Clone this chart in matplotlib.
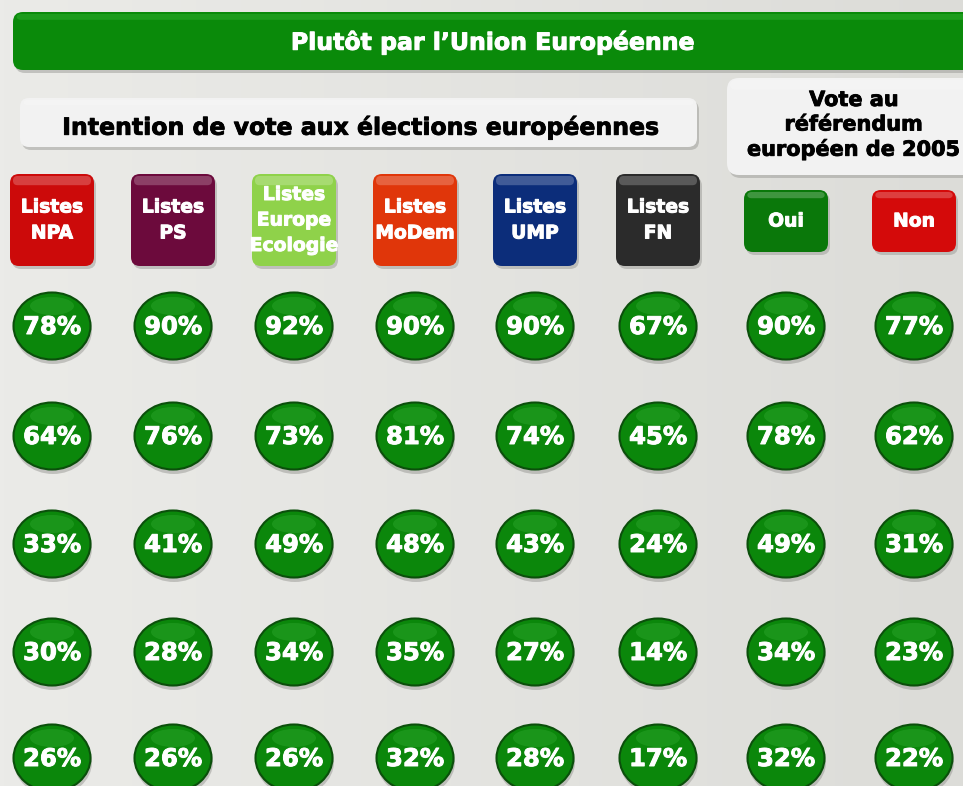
import matplotlib
matplotlib.use("Agg")
import matplotlib.pyplot as plt
import matplotlib.patheffects as pe
import numpy as np
from matplotlib.patches import FancyBboxPatch, Ellipse

# values, one list per row
row1 = [78, 90, 92, 90, 90, 67, 90, 77]
row2 = [64, 76, 73, 81, 74, 45, 78, 62]
row3 = [33, 41, 49, 48, 43, 24, 49, 31]
row4 = [30, 28, 34, 35, 27, 14, 34, 23]
row5 = [26, 26, 26, 32, 28, 17, 32, 22]
rows = [row1, row2, row3, row4, row5]

labels = ["Listes\nNPA", "Listes\nPS", "Listes\nEurope\nEcologie", "Listes\nMoDem",
          "Listes\nUMP", "Listes\nFN", "Oui", "Non"]
box_colors = ["#cc0a0a", "#6c0a3c", "#8fd24a", "#e0360a", "#0c2d7a", "#2b2b2b", "#0a780a", "#d40a0a"]
title = "Plutôt par l\u2019Union Européenne"
subtitle = "Intention de vote aux élections européennes"
ref_title = "Vote au\nréférendum\neuropéen de 2005"

col_x = [52, 173, 294, 415, 535, 658, 786, 914]
row_y = [326, 436, 544, 652, 758]

plt.rcParams['font.family'] = ['DejaVu Sans']
fig = plt.figure(figsize=(9.63, 7.86), dpi=100)
ax = fig.add_axes([0, 0, 1, 1])
ax.set_xlim(0, 963)
ax.set_ylim(786, 0)
ax.axis('off')

# background
grad = np.linspace(0, 1, 256).reshape(1, -1)
bg = plt.matplotlib.colors.LinearSegmentedColormap.from_list("bg", ["#ebebe8", "#dcdcd8"])
ax.imshow(grad, cmap=bg, extent=[0, 963, 786, 0], aspect='auto', zorder=0)

bold_w = [pe.withStroke(linewidth=0.7, foreground="white")]
bold_k = [pe.withStroke(linewidth=0.6, foreground="black")]


def box(x0, y0, w, h, color, r=8, shadow=True, light=None):
    if shadow:
        ax.add_patch(FancyBboxPatch((x0 + 2, y0 + 3), w, h, boxstyle=f"round,pad=0,rounding_size={r}",
                                    fc="#9a9a96", ec="none", alpha=0.5, zorder=1))
    ax.add_patch(FancyBboxPatch((x0, y0), w, h, boxstyle=f"round,pad=0,rounding_size={r}",
                                fc=color, ec="none", zorder=2))
    if light:
        ax.add_patch(FancyBboxPatch((x0 + 3, y0 + 2), w - 6, h * 0.1, boxstyle=f"round,pad=0,rounding_size={r * 0.5}",
                                    fc=light, ec="none", alpha=0.22, zorder=3))


# header bar
box(13, 12, 970, 58, "#0a8a0a", r=10, light="#5ee05e")
ax.text(493, 42, title, color="white", fontsize=17, fontweight="bold", ha="center", va="center",
        zorder=5, path_effects=bold_w)

box(20, 98, 677, 49, "#f2f2f2", r=9, light="white")
ax.text(361, 127, subtitle, color="black", fontsize=17, fontweight="bold", ha="center", va="center",
        zorder=5, path_effects=bold_k)

box(727, 78, 260, 97, "#f2f2f2", r=12, light="white")
for i, line in enumerate(ref_title.split("\n")):
    ax.text(854, 100 + 24.5 * i, line, color="black", fontsize=15, fontweight="bold",
            ha="center", va="center", zorder=5, path_effects=bold_k)

# category boxes
for i, (lab, c) in enumerate(zip(labels, box_colors)):
    cx = col_x[i]
    if i < 6:
        y0, h = 174, 92
    else:
        y0, h = 190, 62
    box(cx - 42, y0, 84, h, c, r=9, light="white")
    lines = lab.split("\n")
    yc = y0 + h / 2
    step = 26 if len(lines) < 3 else 25.5
    for j, line in enumerate(lines):
        ax.text(cx, yc + (j - (len(lines) - 1) / 2) * step, line, color="white", fontsize=13.5,
                fontweight="bold", ha="center", va="center", zorder=5, path_effects=bold_w)

# green bubbles
for r, vals in enumerate(rows):
    for i, v in enumerate(vals):
        x, y = col_x[i], row_y[r]
        ax.add_patch(Ellipse((x + 1, y + 4), 78, 68, fc="#8e8e8a", ec="none", alpha=0.45, zorder=1))
        ax.add_patch(Ellipse((x, y), 77, 67, fc="#0b870b", ec="#0b4f0b", lw=1.5, zorder=2))
        ax.add_patch(Ellipse((x, y - 20), 44, 18, fc="#3fb63f", ec="none", alpha=0.3, zorder=3))
        ax.text(x, y + 1, f"{v}%", color="white", fontsize=17.5, fontweight="bold",
                ha="center", va="center", zorder=5, path_effects=bold_w)

plt.savefig("out.png", dpi=100)
